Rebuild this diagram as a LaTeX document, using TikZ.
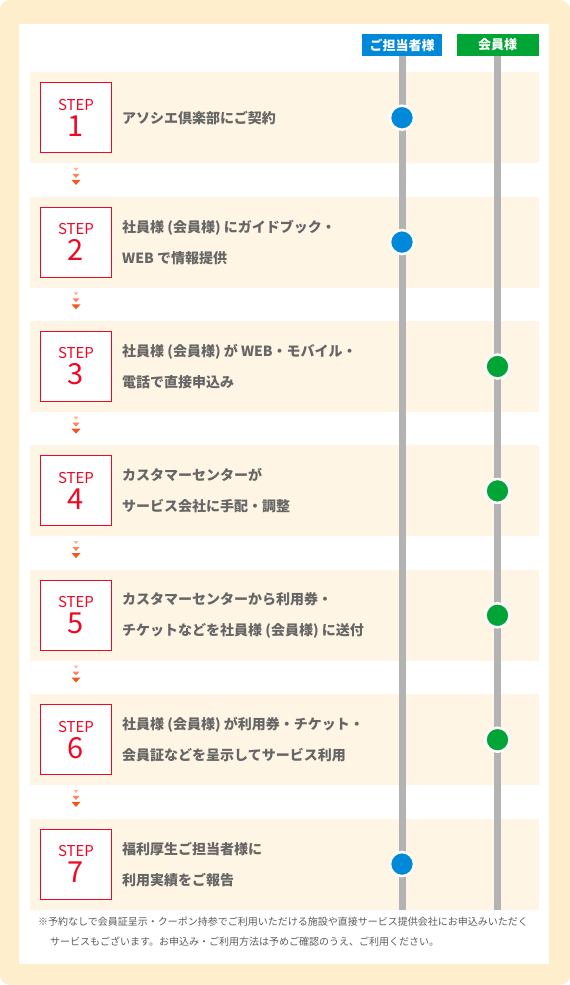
\documentclass[tikz,border=0pt]{standalone}
\usepackage{fontspec}
\setmainfont{Noto Sans CJK JP}
\definecolor{outerBg}{HTML}{FFEECC}
\definecolor{bandBg}{HTML}{FFF5E4}
\definecolor{stepRed}{HTML}{EE0A24}
\definecolor{tantoBlue}{HTML}{0088D9}
\definecolor{memberGreen}{HTML}{00A535}
\definecolor{railGray}{HTML}{B3B3B3}
\definecolor{textGray}{HTML}{666666}
\definecolor{chevA}{HTML}{FFB496}
\definecolor{chevB}{HTML}{FF825A}
\definecolor{chevC}{HTML}{F5551E}
\usetikzlibrary{positioning,calc}

% three small down marks between two steps
\newcommand\stepdown[1]{%
  \fill[chevA, shift={(#1)}] (-2.5,-12) -- (2.5,-12) -- (0,-9) -- cycle;
  \fill[chevB, shift={(#1)}] (-3.5,-6) -- (3.5,-6) -- (0,-2) -- cycle;
  \fill[chevC, shift={(#1)}] (-4.5,0) -- (4.5,0) -- (0,5) -- cycle;
}
\newcommand\steptag[1]{{\fontsize{15}{15}\selectfont STEP}\\#1}

\begin{document}
\begin{tikzpicture}[
    x=1pt, y=-1pt,
    node distance=33pt and 10pt,
    band/.style={fill=bandBg, minimum width=509pt, minimum height=91pt,
                 inner sep=0pt, anchor=north west},
    stepbox/.style={draw=stepRed, fill=white, minimum width=71pt,
                    minimum height=70pt, inner sep=0pt, align=center,
                    text=stepRed, line width=1pt,
                    font=\fontsize{29}{26}\selectfont},
    txt/.style={text=textGray, font=\fontsize{14}{31}\selectfont\bfseries,
                align=left, inner sep=0pt, anchor=west},
    tag/.style={text=white, font=\fontsize{13}{14}\selectfont\bfseries,
                minimum width=80pt, minimum height=22pt, inner sep=0pt},
    rail/.style={railGray, line width=7pt},
    dot/.style={circle, draw=white, line width=2.5pt, minimum size=24pt,
                inner sep=0pt}
  ]
    \fill[white] (0,0) rectangle (570,985);
    \fill[outerBg, rounded corners=10pt] (0,0) rectangle (570,985);
    \fill[white] (19,24) rectangle (549,964);

    % Column heads
    \node[tag, fill=tantoBlue] (tanto) at (402,45) {ご担当者様};
    \node[tag, fill=memberGreen, minimum width=82pt] (member) at (497.5,45) {会員様};

    % Rows
    \node[band] (band1) at (30,72) {};
    \node[band, below=of band1] (band2) {};
    \node[band, below=of band2] (band3) {};
    \node[band, below=of band3] (band4) {};
    \node[band, below=of band4] (band5) {};
    \node[band, below=of band5] (band6) {};
    \node[band, below=of band6] (band7) {};

    \node[stepbox, right=10pt of band1.west] (box1) {\steptag{1}};
    \node[stepbox, right=10pt of band2.west] (box2) {\steptag{2}};
    \node[stepbox, right=10pt of band3.west] (box3) {\steptag{3}};
    \node[stepbox, right=10pt of band4.west] (box4) {\steptag{4}};
    \node[stepbox, right=10pt of band5.west] (box5) {\steptag{5}};
    \node[stepbox, right=10pt of band6.west] (box6) {\steptag{6}};
    \node[stepbox, right=10pt of band7.west] (box7) {\steptag{7}};

    \node[txt, right=10pt of box1] (txt1) {アソシエ倶楽部にご契約};
    \node[txt, right=10pt of box2] (txt2) {社員様 (会員様) にガイドブック・\\WEB で情報提供};
    \node[txt, right=10pt of box3] (txt3) {社員様 (会員様) が WEB・モバイル・\\電話で直接申込み};
    \node[txt, right=10pt of box4] (txt4) {カスタマーセンターが\\サービス会社に手配・調整};
    \node[txt, right=10pt of box5] (txt5) {カスタマーセンターから利用券・\\チケットなどを社員様 (会員様) に送付};
    \node[txt, right=10pt of box6] (txt6) {社員様 (会員様) が利用券・チケット・\\会員証などを呈示してサービス利用};
    \node[txt, right=10pt of box7] (txt7) {福利厚生ご担当者様に\\利用実績をご報告};

    % Marks between rows
    \coordinate (gap1) at ($(box1.south)!0.5!(box2.north)$);
    \coordinate (gap2) at ($(box2.south)!0.5!(box3.north)$);
    \coordinate (gap3) at ($(box3.south)!0.5!(box4.north)$);
    \coordinate (gap4) at ($(box4.south)!0.5!(box5.north)$);
    \coordinate (gap5) at ($(box5.south)!0.5!(box6.north)$);
    \coordinate (gap6) at ($(box6.south)!0.5!(box7.north)$);
    \stepdown{gap1}\stepdown{gap2}\stepdown{gap3}
    \stepdown{gap4}\stepdown{gap5}\stepdown{gap6}

    % Rails and who acts
    \draw[rail] (tanto.south) -- (tanto.south |- band7.south);
    \draw[rail] (member.south) -- (member.south |- band7.south);

    \node[dot, fill=tantoBlue] (dot1) at (tanto |- band1) {};
    \node[dot, fill=tantoBlue] (dot2) at (tanto |- band2) {};
    \node[dot, fill=memberGreen] (dot3) at (member |- band3) {};
    \node[dot, fill=memberGreen] (dot4) at (member |- band4) {};
    \node[dot, fill=memberGreen] (dot5) at (member |- band5) {};
    \node[dot, fill=memberGreen] (dot6) at (member |- band6) {};
    \node[dot, fill=tantoBlue] (dot7) at (tanto |- band7) {};

    % Note
    \node[text=textGray!90!black, font=\fontsize{10}{20}\selectfont, align=left,
          inner sep=0pt, anchor=north west] (note) at (38,917)
      {※予約なしで会員証呈示・クーポン持参でご利用いただける施設や直接サービス提供会社にお申込みいただく\\
       \hspace*{1.2em}サービスもございます。お申込み・ご利用方法は予めご確認のうえ、ご利用ください。};
  \end{tikzpicture}
\end{document}
